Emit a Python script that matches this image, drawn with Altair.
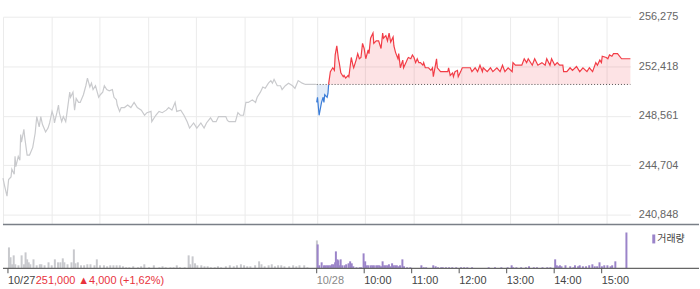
import altair as alt
import pandas as pd

# ---------------- data ----------------
PREV_CLOSE = 251000          # 10/27 close, baseline for 10/28
CLOSE_TEXT = "251,000 ▲4,000 (+1,62%)"

# 10/27 intraday (minute index from 10/27 09:00; 390 minutes per session)
D1_MIN = [0, 2, 5, 7, 10, 11, 14, 15, 16, 19,
          21, 22, 23, 26, 27, 30, 33, 37, 40, 42,
          45, 47, 49, 53, 56, 58, 61, 63, 64, 67,
          69, 70, 73, 75, 78, 80, 83, 84, 87, 89,
          91, 94, 96, 100, 103, 105, 108, 110, 112, 115,
          119, 121, 124, 126, 129, 132, 136, 138, 141, 142,
          145, 147, 151, 155, 159, 163, 167, 172, 176, 179,
          184, 185, 190, 194, 198, 203, 206, 210, 214, 216,
          221, 225, 229, 232, 237, 241, 246, 250, 253, 258,
          261, 265, 268, 277, 279, 281, 289, 292, 295, 299,
          302, 305, 310, 314, 316, 320, 323, 326, 330, 333,
          335, 337, 341, 345, 347, 351, 355, 360, 363, 367,
          372, 376, 389]
D1_PRICE = [243700, 243100, 242300, 243600, 243800, 244400, 244000, 245400, 244600, 245400,
            245100, 247100, 246500, 247500, 246900, 245500, 245500, 246100, 247200, 248500,
            247700, 248500, 247900, 247300, 247600, 248000, 248900, 248500, 248000, 248800,
            249400, 248800, 248100, 248500, 248100, 249000, 250400, 250000, 250400, 249000,
            249900, 249600, 249600, 250200, 250900, 251500, 250800, 251100, 250600, 250900,
            250000, 250200, 250400, 250900, 250600, 250500, 250600, 250000, 249800, 249400,
            248900, 249200, 249200, 249400, 249200, 249600, 249200, 249000, 248600, 248800,
            248900, 248100, 248600, 248900, 248800, 249000, 249200, 249000, 249600, 248900,
            249000, 248600, 248100, 247600, 248000, 247600, 248000, 247600, 248000, 248400,
            248100, 248100, 248500, 248500, 248200, 248100, 248100, 248800, 248600, 248600,
            249600, 249600, 249800, 249600, 250000, 250400, 250800, 250700, 251100, 251300,
            251100, 251400, 250900, 250900, 250600, 250900, 251100, 250900, 250700, 251300,
            251100, 251000, 251000]

# 10/28 intraday
D2_MIN = [390, 391, 393, 396, 398, 399, 400, 403, 404, 405,
          407, 410, 412, 413, 415, 417, 418, 420, 423, 424,
          426, 429, 430, 433, 435, 436, 439, 441, 443, 445,
          447, 449, 451, 454, 455, 457, 460, 461, 464, 467,
          470, 472, 473, 476, 478, 480, 482, 485, 486, 488,
          491, 492, 494, 497, 498, 501, 503, 504, 507, 509,
          511, 513, 515, 517, 519, 522, 523, 525, 529, 532,
          534, 535, 539, 540, 544, 553, 554, 556, 559, 560,
          562, 565, 566, 569, 571, 577, 581, 583, 587, 590,
          593, 596, 597, 602, 606, 609, 614, 618, 621, 624,
          628, 633, 634, 637, 645, 648, 651, 653, 658, 661,
          665, 670, 674, 676, 680, 682, 686, 689, 692, 696,
          697, 701, 705, 708, 713, 717, 721, 726, 729, 733,
          737, 739, 742, 744, 745, 750, 752, 754, 757, 759,
          764, 769, 780]
D2_PRICE = [249600, 250000, 248600, 249600, 250000, 249600, 250200, 250000, 250300, 251100,
            252000, 252300, 252100, 253300, 254000, 253000, 252700, 251900, 251600, 251700,
            251500, 251700, 251600, 253100, 252500, 252300, 252900, 253400, 253000, 253100,
            254200, 253800, 253000, 253700, 253400, 254600, 255000, 254200, 254400, 254400,
            253800, 255000, 254600, 254800, 254400, 255000, 254300, 254700, 254000, 253500,
            253000, 253400, 252300, 252900, 252300, 252700, 253000, 253100, 253000, 253300,
            253100, 252700, 253000, 252700, 252700, 252500, 252700, 252300, 252300, 252100,
            252300, 251600, 253000, 252300, 252000, 252000, 252300, 251700, 251900, 251600,
            252000, 252100, 251600, 252000, 252300, 252300, 252300, 252000, 252300, 252000,
            252500, 252000, 252300, 252000, 252300, 252000, 252300, 252000, 252500, 252000,
            252300, 252000, 252700, 252500, 252500, 253000, 252700, 253000, 252500, 253000,
            252500, 252700, 252500, 253000, 252500, 253000, 252500, 252700, 252500, 252500,
            252000, 252000, 252300, 252100, 252400, 252000, 252300, 252000, 252300, 252000,
            252700, 252500, 252900, 252700, 253200, 253100, 253000, 253300, 253200, 253400,
            253400, 253000, 253000]

# volume (thousand shares)
VOL1_MIN = [0, 2, 4, 6, 8, 12, 16, 19, 21, 23, 25, 27, 31, 35, 39, 41, 45, 50, 54, 58,
            62, 65, 68, 70, 74, 79, 82, 84, 87, 91, 95, 99, 103, 108, 111, 115, 120, 124, 128, 132,
            136, 140, 144, 148, 152, 157, 163, 167, 171, 177, 183, 190, 194, 198, 204, 208, 212, 216, 222, 227,
            229, 232, 235, 238, 243, 247, 251, 255, 260, 264, 268, 274, 279, 284, 288, 293, 297, 301, 305, 311,
            316, 319, 323, 328, 332, 336, 340, 344, 348, 354, 359, 363, 367, 373, 377, 389]
VOL1 = [21, 11, 4, 13, 4, 3, 13, 4, 16, 9, 6, 4, 9, 3, 4, 4, 3, 6, 3, 9,
        6, 6, 10, 6, 4, 6, 19, 5, 6, 3, 3, 4, 4, 3, 9, 3, 3, 2, 3, 3,
        3, 3, 2, 1, 1, 2, 1, 2, 4, 1, 3, 1, 2, 1, 1, 1, 3, 1, 1, 13,
        4, 12, 5, 3, 3, 2, 2, 1, 1, 2, 1, 2, 3, 2, 3, 4, 3, 2, 2, 3,
        7, 4, 2, 3, 4, 2, 3, 3, 2, 2, 3, 2, 3, 3, 1, 28]
VOL2_MIN = [390, 392, 395, 398, 400, 402, 404, 406, 408, 410, 412, 413, 415, 416, 418, 419, 421, 424, 426, 429,
            431, 433, 435, 439, 443, 445, 448, 450, 452, 454, 457, 459, 461, 464, 466, 468, 470, 472, 474, 476,
            478, 480, 482, 484, 486, 488, 490, 492, 494, 497, 499, 503, 507, 521, 524, 527, 536, 539, 542, 546,
            548, 552, 556, 560, 565, 571, 575, 579, 585, 606, 614, 622, 630, 635, 637, 641, 647, 653, 657, 663,
            667, 674, 680, 684, 690, 692, 694, 696, 698, 703, 709, 713, 715, 719, 721, 725, 729, 733, 737, 740,
            743, 746, 749, 752, 756, 760, 762, 766, 780]
VOL2 = [24, 3, 6, 3, 3, 3, 3, 3, 4, 4, 6, 17, 9, 8, 3, 9, 3, 3, 4, 5,
        7, 5, 2, 1, 1, 1, 15, 7, 3, 3, 3, 3, 3, 3, 3, 3, 2, 7, 3, 3,
        3, 4, 2, 5, 3, 3, 3, 2, 3, 9, 2, 1, 1, 3, 1, 1, 3, 2, 1, 1,
        1, 1, 1, 1, 1, 1, 1, 1, 1, 1, 1, 1, 1, 3, 1, 1, 1, 1, 2, 1,
        1, 1, 1, 1, 9, 3, 2, 3, 2, 3, 2, 1, 3, 2, 3, 2, 2, 3, 4, 2,
        2, 6, 2, 3, 3, 2, 3, 7, 36]

Y_TICKS = [240848, 244704, 248561, 252418, 256275]
Y_DOMAIN = [240090, 256275]
X_DOMAIN = [0, 780]
GRID_MINUTES = [0, 60, 120, 180, 240, 300, 360, 390, 450, 510, 570, 630, 690, 750]
X_TICK_MINUTES = [0, 390, 450, 510, 570, 630, 690, 750]
X_TICK_LABELS = ["10/27", "10/28", "10:00", "11:00", "12:00", "13:00", "14:00", "15:00"]
LEGEND_LABEL = "거래량"

# ---------------- styles ----------------
RED = "#f23c46"
BLUE = "#3b7dd8"
GRAY_LINE = "#c9cacd"
GRID = "#ebebeb"
PURPLE = "#9b84c9"
GRAY_BAR = "#c8c9cd"
FONT = "Liberation Sans"

W, H_PRICE, H_VOL = 631, 209, 42

# ---------------- frames ----------------
d1 = pd.DataFrame({"m": D1_MIN, "price": D1_PRICE})

rows = []
seg = 0
prev = None
for i, (m, p) in enumerate(zip(D2_MIN, D2_PRICE)):
    s = "up" if p >= PREV_CLOSE else "down"
    if prev is not None and s != prev:
        m0, p0 = D2_MIN[i - 1], D2_PRICE[i - 1]
        mc = m0 + (PREV_CLOSE - p0) * (m - m0) / (p - p0)
        rows.append(dict(m=mc, price=PREV_CLOSE, seg=seg, dir=prev))
        seg += 1
        rows.append(dict(m=mc, price=PREV_CLOSE, seg=seg, dir=s))
    rows.append(dict(m=m, price=p, seg=seg, dir=s))
    prev = s
d2 = pd.DataFrame(rows)

base_df = pd.DataFrame({"m": [D2_MIN[0]], "m2": [D2_MIN[-1]], "price": [PREV_CLOSE]})
v1 = pd.DataFrame({"m": VOL1_MIN, "vol": VOL1})
v2 = pd.DataFrame({"m": VOL2_MIN, "vol": VOL2})
ticks_df = pd.DataFrame({"m": X_TICK_MINUTES, "label": X_TICK_LABELS})
one = pd.DataFrame({"a": [0]})

x_scale = alt.Scale(domain=X_DOMAIN, nice=False, zero=False)
y_scale = alt.Scale(domain=Y_DOMAIN, nice=False, zero=False)

x_price = alt.X("m:Q", scale=x_scale,
                axis=alt.Axis(values=GRID_MINUTES, grid=True, gridColor=GRID, gridWidth=1,
                              labels=False, ticks=False, domain=False, title=None))
y_price = alt.Y("price:Q", scale=y_scale,
                axis=alt.Axis(orient="right", values=Y_TICKS, format=",d", grid=True,
                              gridColor=GRID, gridWidth=1, ticks=False, domain=False,
                              labelFont=FONT, labelFontSize=11, labelColor="#666666",
                              labelPadding=8, title=None))

dir_fill = alt.Fill("dir:N", scale=alt.Scale(domain=["up", "down"], range=[RED, BLUE]), legend=None)
dir_stroke = alt.Stroke("dir:N", scale=alt.Scale(domain=["up", "down"], range=[RED, BLUE]), legend=None)

area = alt.Chart(d2).mark_area(fillOpacity=0.14, interpolate="linear").encode(
    x=x_price, y=y_price, y2=alt.datum(PREV_CLOSE), fill=dir_fill, detail="seg:N")

base_rule = alt.Chart(base_df).mark_rule(color="#555555", strokeDash=[1, 2], strokeWidth=1).encode(
    x=x_price, x2="m2:Q", y=y_price)

line1 = alt.Chart(d1).mark_line(color=GRAY_LINE, strokeWidth=1.2).encode(x=x_price, y=y_price)

line2 = alt.Chart(d2).mark_line(strokeWidth=1.2).encode(
    x=x_price, y=y_price, stroke=dir_stroke, detail="seg:N")

sep_line = alt.Chart(one).mark_rule(color="#7a7f87", strokeWidth=1.5).encode(
    x=alt.value(0), x2=alt.value(700), y=alt.value(H_PRICE))

price_chart = alt.layer(area, base_rule, line1, line2, sep_line).properties(width=W, height=H_PRICE)

# ---------------- volume ----------------
x_vol = alt.X("m:Q", scale=x_scale, axis=None)
y_vol = alt.Y("vol:Q", scale=alt.Scale(domain=[0, 42], nice=False), axis=None)

bars1 = alt.Chart(v1).mark_bar(color=GRAY_BAR, size=2, xOffset=1).encode(x=x_vol, y=y_vol)
bars2 = alt.Chart(v2).mark_bar(color=PURPLE, size=2, xOffset=1).encode(x=x_vol, y=y_vol)

vol_axis_line = alt.Chart(one).mark_rule(color="#666666", strokeWidth=1.2).encode(
    x=alt.value(0), x2=alt.value(700), y=alt.value(H_VOL))

tick_marks = alt.Chart(ticks_df).mark_rule(color="#555555", strokeWidth=1).encode(
    x=x_vol, y=alt.value(H_VOL), y2=alt.value(H_VOL + 5))

tick_labels = alt.Chart(ticks_df).mark_text(align="left", baseline="middle", font=FONT,
                                            fontSize=11).encode(
    x=x_vol, y=alt.value(H_VOL + 12.5), text="label:N",
    color=alt.condition("datum.m == 390", alt.value("#888888"),
                        alt.value("#444444")))

legend_sw = alt.Chart(one).mark_rect(color=PURPLE).encode(
    x=alt.value(653), x2=alt.value(656), y=alt.value(8), y2=alt.value(17))
legend_tx = alt.Chart(one).mark_text(align="left", baseline="middle", font="Noto Sans CJK KR",
                                     fontSize=10, color="#444444").encode(
    x=alt.value(658), y=alt.value(12.5), text=alt.value(LEGEND_LABEL))
close_tx = alt.Chart(one).mark_text(align="left", baseline="middle", font=FONT + ", DejaVu Sans",
                                    fontSize=11, color="#e8323c").encode(
    x=alt.value(33), y=alt.value(H_VOL + 12.5), text=alt.value(CLOSE_TEXT))

vol_chart = alt.layer(bars1, bars2, vol_axis_line, tick_marks, tick_labels,
                      legend_sw, legend_tx, close_tx).properties(width=W, height=H_VOL)

chart = alt.vconcat(price_chart, vol_chart, spacing=1).properties(
    padding={"left": 0, "top": 10, "right": 0, "bottom": 0},
    background="white",
).configure_view(stroke=None)

chart.save("out.html", embed_options={"renderer": "svg", "actions": False})
